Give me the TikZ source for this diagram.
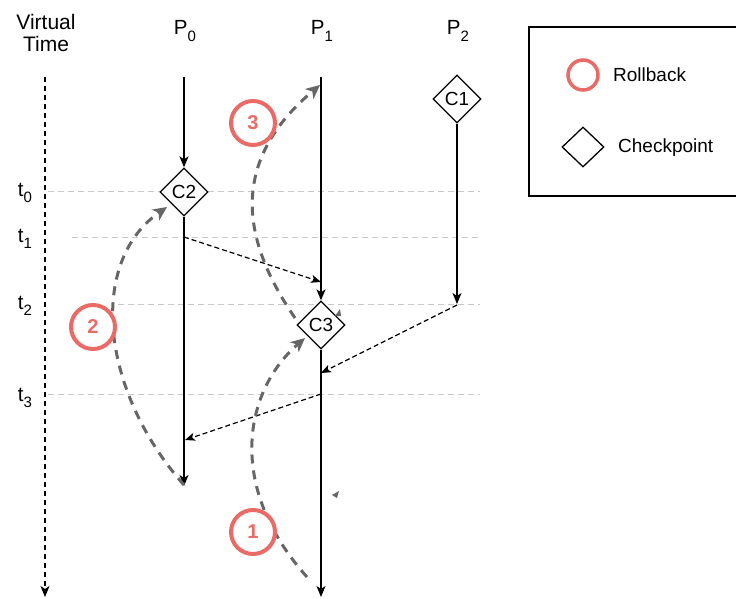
\documentclass[tikz,border=0pt]{standalone}
\usepackage{fontspec}
\setmainfont{Liberation Sans}
\usetikzlibrary{arrows.meta,shapes.geometric}
\definecolor{rb}{HTML}{EA6B66}
\definecolor{rbg}{HTML}{666666}
\definecolor{gl}{HTML}{C8C8C8}
\newcommand{\mysub}[1]{\raisebox{-0.32em}{\fontsize{15}{15}\selectfont #1}}
\begin{document}
\begin{tikzpicture}[x=1pt,y=-1pt,
  lbl/.style={font=\fontsize{20.5}{23}\selectfont, align=center, inner sep=0pt},
  lgd/.style={font=\fontsize{19}{21}\selectfont, anchor=west, inner sep=0pt},
  chk/.style={diamond, draw, line width=1.3pt, minimum width=48pt, minimum height=48pt, inner sep=0pt, fill=white, font=\fontsize{19}{20}\selectfont},
  proc/.style={line width=1.3pt, -{Stealth[length=11pt,width=9pt,inset=3pt]}},
  msg/.style={line width=1.2pt, dash pattern=on 5pt off 3pt, -{Stealth[length=10pt,width=8pt,inset=2.5pt]}},
  roll/.style={draw=rbg, line width=3pt, dash pattern=on 9pt off 7pt, -{Stealth[length=14pt,width=13pt,inset=4pt]}},
  rbc/.style={circle, draw=rb, line width=4pt, minimum size=44pt, inner sep=0pt, fill=white, text=rb, font=\bfseries\fontsize{20}{22}\selectfont},
  tline/.style={draw=gl, line width=1pt, dash pattern=on 6pt off 4pt}]
\useasboundingbox (0,0) rectangle (736,599);

% labels
\node[lbl, font=\fontsize{21}{23}\selectfont] (vt) at (46,33) {Virtual\\[-1pt]Time};
\node[lbl] (P0) at (185,31) {P\mysub{0}};
\node[lbl] (P1) at (322,31) {P\mysub{1}};
\node[lbl] (P2) at (458,31) {P\mysub{2}};
\node[lbl] (t0) at (25,193) {t\mysub{0}};
\node[lbl] (t1) at (25,239) {t\mysub{1}};
\node[lbl] (t2) at (25,306) {t\mysub{2}};
\node[lbl] (t3) at (25,398) {t\mysub{3}};

% time lines
\coordinate (l0a) at (48,191);  \coordinate (l0b) at (480,191);
\coordinate (l1a) at (72,237);  \coordinate (l1b) at (482,237);
\coordinate (l2a) at (118,304); \coordinate (l2b) at (480,304);
\coordinate (l3a) at (48,394);  \coordinate (l3b) at (480,394);
\draw[tline] (l0a) -- (l0b);
\draw[tline] (l1a) -- (l1b);
\draw[tline] (l2a) -- (l2b);
\draw[tline] (l3a) -- (l3b);

% virtual time axis
\coordinate (vta) at (45,77); \coordinate (vtb) at (45,597);
\draw[line width=1.3pt, dash pattern=on 5pt off 4pt, -{Stealth[length=11pt,width=9pt,inset=3pt]}] (vta) -- (vtb);

% checkpoints
\node[chk] (C2) at (184,192) {C2};
\node[chk] (C1) at (457,99) {C1};
\node[chk] (C3) at (321,325) {C3};

% process lines
\coordinate (p0top) at (184,77);  \coordinate (p0end) at (184,486);
\coordinate (p1top) at (321,77);  \coordinate (p1end) at (321,597);
\coordinate (p2end) at (457,304);
\draw[proc] (p0top) -- (C2.north);
\draw[proc] (C2.south) -- (p0end);
\draw[proc] (p1top) -- (C3.north);
\draw[proc] (C3.south) -- (p1end);
\draw[proc] (C1.south) -- (p2end);

% messages
\coordinate (m1s) at (184,237); \coordinate (m1e) at (321,282);
\coordinate (m2s) at (457,305); \coordinate (m2e) at (321,373);
\coordinate (m3s) at (321,394); \coordinate (m3e) at (185,440);
\draw[msg] (m1s) -- (m1e);
\draw[msg] (m2s) -- (m2e);
\draw[msg] (m3s) -- (m3e);

% rollbacks
\coordinate (r2s) at (184,485); \coordinate (r2e) at (167,207);
\coordinate (r3s) at (295,318); \coordinate (r3e) at (320,85);
\coordinate (r1s) at (307,577); \coordinate (r1e) at (305,338);
\draw[roll] (r2s) .. controls (100,390) and (88,262) .. (r2e);
\draw[roll] (r3s) .. controls (245,245) and (225,165) .. (r3e);
\draw[roll] (r1s) .. controls (225,485) and (245,390) .. (r1e);

% stray marks
\fill[rbg] (332,495) -- (339,491) -- (337,498) -- cycle;
\fill[rbg] (335,316) -- (340,309) -- (341,316) -- cycle;

% rollback circles
\node[rbc] (R3) at (253,123) {3};
\node[rbc] (R2) at (93,327) {2};
\node[rbc] (R1) at (253,532) {1};

% legend
\coordinate (lg1) at (736,27); \coordinate (lg2) at (529,27);
\coordinate (lg3) at (529,196); \coordinate (lg4) at (736,196);
\draw[line width=1.3pt] (lg1) -- (lg2) -- (lg3) -- (lg4);
\node[circle, draw=rb, line width=3.5pt, minimum size=30pt, inner sep=0pt] (lgc) at (583,75) {};
\node[lgd] (lgct) at (613,75) {Rollback};
\node[diamond, draw, line width=1.3pt, minimum width=42pt, minimum height=40pt, inner sep=0pt] (lgd1) at (583,147) {};
\node[lgd] (lgdt) at (618,148) {Checkpoint};
\end{tikzpicture}
\end{document}
